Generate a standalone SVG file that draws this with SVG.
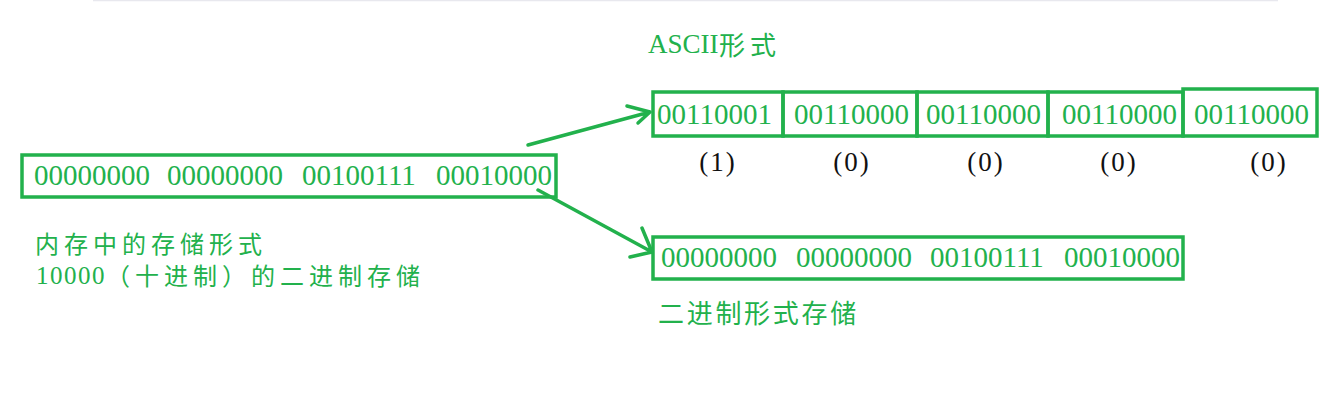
<svg xmlns="http://www.w3.org/2000/svg" width="1342" height="400" viewBox="0 0 1342 400">
<style>
.box{fill:none;stroke:#22b14c;stroke-width:3.5}
.num{font-family:"Liberation Serif","Times New Roman",serif;font-size:29px;fill:#22b14c}
.cn{font-family:"Noto Sans CJK SC","Noto Sans",sans-serif;font-size:24px;letter-spacing:5px;fill:#22b14c}
.lbl{font-family:"Liberation Serif","Times New Roman",serif;font-size:27px;letter-spacing:2px;fill:#111}
.arr{fill:none;stroke:#22b14c;stroke-width:3.5;stroke-linecap:round;stroke-linejoin:round}
</style>
<rect width="1342" height="400" fill="#fff"/>
<line x1="93" y1="0.5" x2="1278" y2="0.5" stroke="#e8e8ee" stroke-width="1.5"/>

<g id="memory">
<rect class="box" x="22" y="155" width="534" height="42"/>
<text class="num" x="34" y="185">00000000</text>
<text class="num" x="167" y="185">00000000</text>
<text class="num" x="302" y="185">00100111</text>
<text class="num" x="436" y="185">00010000</text>
</g>

<g id="memory-label">
<text class="cn" x="35" y="253">内存中的存储形式</text>
<text class="num" x="36" y="284" style="font-size:25px;letter-spacing:1.5px">10000</text>
<text class="cn" x="106" y="285">（十进制）的二进制存储</text>
</g>

<g id="ascii-title">
<text class="num" x="648" y="53" style="font-size:27px">ASCII</text>
<text class="cn" x="719" y="55" style="font-size:26px;letter-spacing:5px">形式</text>
</g>

<g id="ascii">
<rect class="box" x="653" y="92" width="130" height="44"/>
<rect class="box" x="783" y="92" width="134" height="44"/>
<rect class="box" x="917" y="92" width="131" height="44"/>
<rect class="box" x="1048" y="92" width="135" height="44"/>
<rect class="box" x="1183" y="89" width="134" height="47"/>
<text class="num" x="657" y="124">00110001</text>
<text class="num" x="794" y="124">00110000</text>
<text class="num" x="926" y="124">00110000</text>
<text class="num" x="1062" y="124">00110000</text>
<text class="num" x="1194" y="124">00110000</text>
<text class="lbl" x="718" y="171" text-anchor="middle">(1)</text>
<text class="lbl" x="852" y="171" text-anchor="middle">(0)</text>
<text class="lbl" x="986" y="171" text-anchor="middle">(0)</text>
<text class="lbl" x="1119" y="171" text-anchor="middle">(0)</text>
<text class="lbl" x="1269" y="171" text-anchor="middle">(0)</text>
</g>

<g id="binary">
<rect class="box" x="653" y="237" width="530" height="42"/>
<text class="num" x="661" y="267">00000000</text>
<text class="num" x="796" y="267">00000000</text>
<text class="num" x="930" y="267">00100111</text>
<text class="num" x="1064" y="267">00010000</text>
</g>

<g id="binary-label">
<text class="cn" x="658" y="323" style="font-size:26px;letter-spacing:2.7px">二进制形式存储</text>
</g>

<g id="connectors">
<path class="arr" d="M528 145 L650 112 M627 106 L650 112 L638 123"/>
<path class="arr" d="M538 190 L652 252 M642 228 L652 252 L630 257"/>
</g>
</svg>
